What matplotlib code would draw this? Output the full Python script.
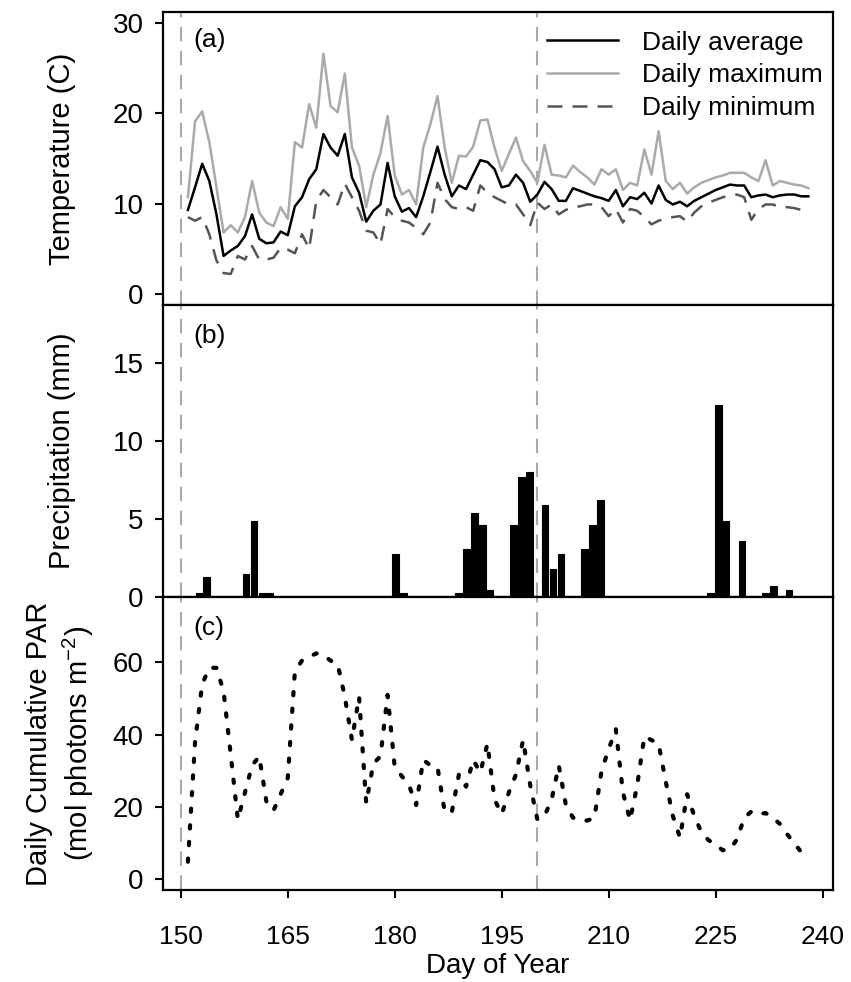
import numpy as np
import matplotlib
matplotlib.use("Agg")
import matplotlib.pyplot as plt

plt.rcParams['font.family'] = ['Liberation Sans', 'DejaVu Sans']
plt.rcParams['mathtext.fontset'] = 'custom'
plt.rcParams['mathtext.rm'] = 'Liberation Sans'
plt.rcParams['mathtext.it'] = 'Liberation Sans:italic'

# daily weather, day of year 151-238
days = np.arange(151, 239)

t_avg = [9.3, 11.8, 14.4, 12.5, 8.8, 4.2, 4.8, 5.3, 6.4, 8.8,
         6.1, 5.6, 5.7, 6.9, 6.5, 9.7, 10.7, 12.7, 13.8, 17.7,
         16.2, 15.3, 17.7, 12.9, 11.2, 8.0, 9.2, 9.9, 14.5, 10.8,
         9.1, 9.5, 8.5, 10.8, 13.5, 16.3, 13.2, 10.8, 12.0, 11.6,
         13.2, 14.8, 14.6, 13.8, 11.8, 12.0, 13.2, 12.3, 10.2, 11.0,
         12.4, 11.6, 10.3, 10.3, 11.7, 11.4, 11.1, 10.8, 10.6, 10.3,
         11.5, 9.7, 10.7, 10.5, 11.2, 10.0, 12.0, 10.4, 9.9, 10.2,
         9.7, 10.3, 10.7, 11.1, 11.5, 11.8, 12.1, 12.0, 12.0, 10.7,
         10.9, 11.0, 10.7, 10.9, 11.0, 11.0, 10.8, 10.8]

t_max = [10.7, 19.1, 20.2, 16.8, 11.8, 6.8, 7.6, 6.8, 8.5, 12.5,
         9.0, 7.9, 7.5, 9.6, 8.3, 16.8, 16.2, 21.0, 18.4, 26.6,
         20.8, 20.1, 24.4, 16.2, 14.2, 9.6, 13.2, 15.6, 19.7, 13.1,
         11.0, 11.5, 9.9, 16.2, 18.8, 21.9, 16.2, 12.3, 15.3, 15.2,
         16.3, 19.2, 19.3, 16.2, 13.6, 15.5, 17.3, 14.7, 13.6, 12.3,
         16.5, 13.2, 13.1, 12.9, 14.2, 13.5, 12.9, 12.1, 13.8, 13.2,
         13.8, 11.5, 12.3, 12.0, 16.0, 13.2, 18.0, 12.5, 11.6, 12.3,
         11.1, 11.8, 12.3, 12.6, 12.9, 13.1, 13.4, 13.4, 13.4, 12.9,
         12.5, 14.8, 12.0, 12.5, 12.3, 12.1, 12.0, 11.7]

t_min = [8.5, 8.1, 8.5, 6.6, 3.7, 2.3, 2.2, 4.2, 3.8, 5.3,
         3.8, 3.8, 4.0, 5.1, 4.9, 4.5, 6.6, 5.0, 10.3, 11.5,
         10.7, 9.9, 12.2, 10.7, 9.2, 7.0, 6.8, 5.5, 9.4, 8.5,
         8.1, 7.9, 7.3, 6.6, 7.9, 12.3, 10.5, 9.6, 9.4, 9.6,
         9.2, 12.0, 11.2, 10.7, 10.3, 9.9, 9.9, 8.8, 7.6, 10.1,
         9.4, 9.9, 8.8, 9.3, 9.6, 9.7, 9.9, 9.9, 9.6, 8.6,
         9.4, 7.9, 9.4, 9.2, 8.5, 7.7, 8.1, 8.3, 8.5, 8.6,
         8.0, 9.0, 9.7, 10.1, 10.4, 10.7, 10.9, 11.0, 10.7, 8.2,
         9.4, 9.9, 9.9, 9.6, 9.6, 9.5, 9.3, 9.0]

par = [4.8, 38, 54, 58.5, 58.5, 52, 34.5, 16.5, 24, 31.5,
       34, 21.5, 19, 23.5, 28, 57.5, 60.5, 61.5, 62.5, 62,
       60.5, 59.5, 50.5, 38.5, 50.5, 21, 32, 34, 51, 31,
       28.5, 26, 20.5, 33, 31.5, 31, 18.7, 18.5, 29, 25.6,
       33, 29.5, 37.5, 22, 18, 24, 29, 38.5, 26, 16.5,
       17.5, 22, 31.5, 20.5, 17, 16.5, 16.2, 17, 30, 36,
       41.5, 24, 16.3, 26, 39.5, 38.5, 37.5, 27, 17.5, 11.5,
       23.5, 17.5, 13, 10.8, 9.5, 8, 8.3, 11, 17, 18.7,
       18, 18.3, 17, 15.3, 12.5, 10, 7.5, 6]

# precipitation bars (barplot slot index, mm)
precip_slot = [1, 2, 7, 8, 9, 10, 26, 27, 34, 35, 36, 37, 38, 41, 42, 43,
               45, 46, 47, 50, 51, 52, 66, 67, 68, 70, 73, 74, 76]
precip_mm = [0.25, 1.3, 1.5, 4.9, 0.25, 0.25, 2.8, 0.25, 0.25, 3.1, 5.4, 4.6,
             0.5, 4.6, 7.7, 8.0, 5.9, 1.8, 2.8, 3.1, 4.6, 6.2, 0.25, 12.3,
             4.9, 3.6, 0.25, 0.75, 0.5]

marks = [150, 200]
xticks = [150, 165, 180, 195, 210, 225, 240]

fs = 19
fs_lab = 21
fig = plt.figure(figsize=(8.51, 9.82), dpi=100)
left, width = 0.1915, 0.7873
h = 0.2980
ax_a = fig.add_axes([left, 0.0937 + 2 * h, width, h])
ax_b = fig.add_axes([left, 0.0937 + h, width, h])
ax_c = fig.add_axes([left, 0.0937, width, h])

for ax in (ax_a, ax_b, ax_c):
    ax.set_xlim(147.5, 241.45)
    for s in ax.spines.values():
        s.set_linewidth(1.6)
    for m in marks:
        ax.axvline(m, color='#aaaaaa', lw=1.5, dashes=(7, 4.5), zorder=1)
    ax.tick_params(axis='y', direction='out', length=6, width=1.5,
                   labelsize=20, pad=8)
    ax.tick_params(axis='x', direction='out', length=6, width=1.5,
                   labelsize=fs, pad=19)

# (a) temperature
ax_a.plot(days, t_avg, color='black', lw=1.8, label='Daily average', zorder=3)
ax_a.plot(days, t_max, color='#aaaaaa', lw=1.8, label='Daily maximum', zorder=2)
ax_a.plot(days, t_min, color='#555555', lw=1.8, dashes=(6, 4),
          label='Daily minimum', zorder=2)
ax_a.set_ylim(-1.2, 31.2)
ax_a.set_yticks([0, 10, 20, 30])
ax_a.set_xticks([])
ax_a.set_ylabel('Temperature (C)', fontsize=fs_lab, va='center')
ax_a.yaxis.set_label_coords(-0.151, 0.5)
ax_a.text(0.045, 0.945, '(a)', transform=ax_a.transAxes, fontsize=fs, va='top')
ax_a.legend(loc='upper right', bbox_to_anchor=(1.012, 1.0), frameon=False,
            fontsize=fs, handlelength=2.7, handletextpad=0.9,
            labelspacing=0.33, borderaxespad=0.3)

# (b) precipitation, drawn as a barplot on its own slot scale
ax_b.set_ylim(0, 18.7)
ax_b.set_yticks([0, 5, 10, 15])
ax_b.set_xticks([])
ax_b.set_ylabel('Precipitation (mm)', fontsize=fs_lab, va='center')
ax_b.yaxis.set_label_coords(-0.151, 0.5)
ax_b.text(0.045, 0.935, '(b)', transform=ax_b.transAxes, fontsize=fs, va='top')
ax_bar = ax_b.twiny()
ax_bar.set_xlim(-3.58, 98.58)
ax_bar.set_xticks([])
ax_bar.axis('off')
bar_x = [0.7 + 1.2 * j for j in precip_slot]
ax_bar.bar(bar_x, precip_mm, width=1.0, color='black', edgecolor='black', lw=0.8)

# (c) PAR
ax_c.plot(days, par, color='black', lw=3.0, linestyle=(0, (0.8, 3.2)),
          dash_capstyle='round', zorder=3)
ax_c.set_ylim(-3, 78)
ax_c.set_yticks([0, 20, 40, 60])
ax_c.set_xticks(xticks)
ax_c.set_ylabel('Daily Cumulative PAR\n(mol photons m$^{-2}$)', fontsize=fs_lab,
                va='center', linespacing=1.3)
ax_c.yaxis.set_label_coords(-0.153, 0.5)
ax_c.set_xlabel('Day of Year', fontsize=20, labelpad=3)
ax_c.text(0.045, 0.935, '(c)', transform=ax_c.transAxes, fontsize=fs, va='top')

fig.savefig('out.png', dpi=100)
